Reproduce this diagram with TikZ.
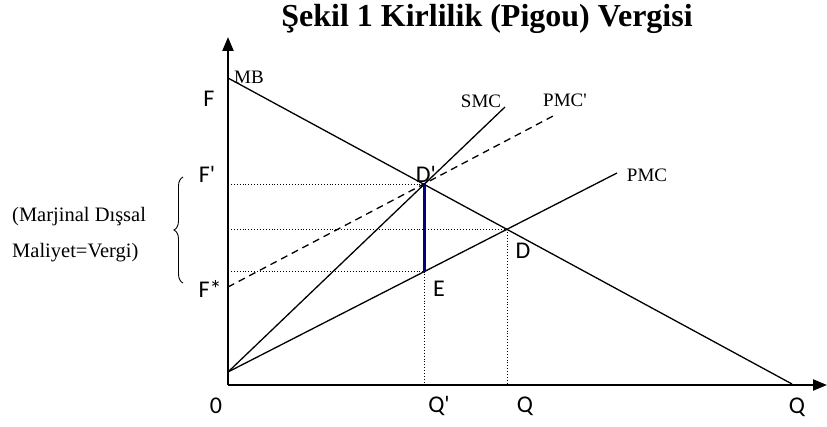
\documentclass[tikz,border=0pt]{standalone}
\usepackage{fontspec}
\setmainfont{Liberation Serif}[Ligatures=TeXOff]
\newfontfamily\calib{Carlito}
\usetikzlibrary{arrows.meta,decorations.pathreplacing}

\begin{document}
\begin{tikzpicture}[x=1pt,y=1pt,>={Triangle[length=14pt,width=11pt]},line cap=butt,
  curve/.style={line width=1.3pt},
  guide/.style={line width=0.9pt,dotted},
  lbl/.style={font=\calib\fontsize{24}{26}\selectfont,inner sep=0pt},
  clbl/.style={font=\fontsize{19}{21}\selectfont,inner sep=0pt}]
\useasboundingbox (-228,-41) rectangle (599,385);
% axes
\coordinate (O) at (0,0);
\coordinate (ytop) at (0,348);
\coordinate (xend) at (599,0);
\draw[line width=2.2pt,->] (O) -- (ytop);
\draw[line width=2.2pt,->] (O) -- (xend);
% curves
\coordinate (mb0) at (0,307);
\coordinate (mb1) at (564,1);
\coordinate (c0) at (0,13);
\coordinate (smc1) at (277,278);
\coordinate (pmc1) at (389,212);
\coordinate (fs) at (0,98);
\coordinate (pmcp1) at (327,270);
\coordinate (Dp) at (196,201);
\coordinate (E) at (196,113.5);
\coordinate (D) at (279,156);
\draw[curve] (mb0) -- (mb1);
\draw[curve] (c0) -- (smc1);
\draw[curve] (c0) -- (pmc1);
\draw[curve,dashed,dash pattern=on 7pt off 5pt] (fs) -- (pmcp1);
% guides
\draw[guide] (0,201) -- (Dp);
\draw[guide] (0,156) -- (D);
\draw[guide] (0,113.5) -- (E);
\draw[guide] (E) -- (196,0);
\draw[guide] (D) -- (279,0);
\draw[line width=3pt,blue!50!black] (Dp) -- (E);
% brace
\draw[line width=0.9pt,decorate,decoration={brace,amplitude=9pt}] (-45,102) -- (-45,208);
% labels
\node[lbl] (lF) at (-19,286) {F};
\node[lbl] (lFp) at (-21,211) {F'};
\node[lbl] (lFs) at (-18,96) {F*};
\node[lbl] (l0) at (-12,-21) {0};
\node[lbl] (lQp) at (211,-21) {Q'};
\node[lbl] (lQ) at (297,-21) {Q};
\node[lbl] (lQm) at (569,-22) {Q};
\node[lbl] (lDp) at (198,211) {D'};
\node[lbl] (lD) at (295,134) {D};
\node[lbl] (lE) at (211,96) {E};
\node[clbl,anchor=west] (lMB) at (6,308) {MB};
\node[clbl] (lSMC) at (253,284) {SMC};
\node[clbl] (lPMCp) at (337,285) {PMC'};
\node[clbl] (lPMC) at (419,210) {PMC};
\node[font=\fontsize{20.5}{22}\selectfont,inner sep=0pt,anchor=west] (tx1) at (-216,168) {(Marjinal Dışsal};
\node[font=\fontsize{20.5}{22}\selectfont,inner sep=0pt,anchor=west] (tx2) at (-216,132) {Maliyet=Vergi)};
\node[font=\bfseries\fontsize{32}{34}\selectfont,inner sep=0pt] (title) at (259,366) {Şekil 1 Kirlilik (Pigou) Vergisi};
\end{tikzpicture}
\end{document}
